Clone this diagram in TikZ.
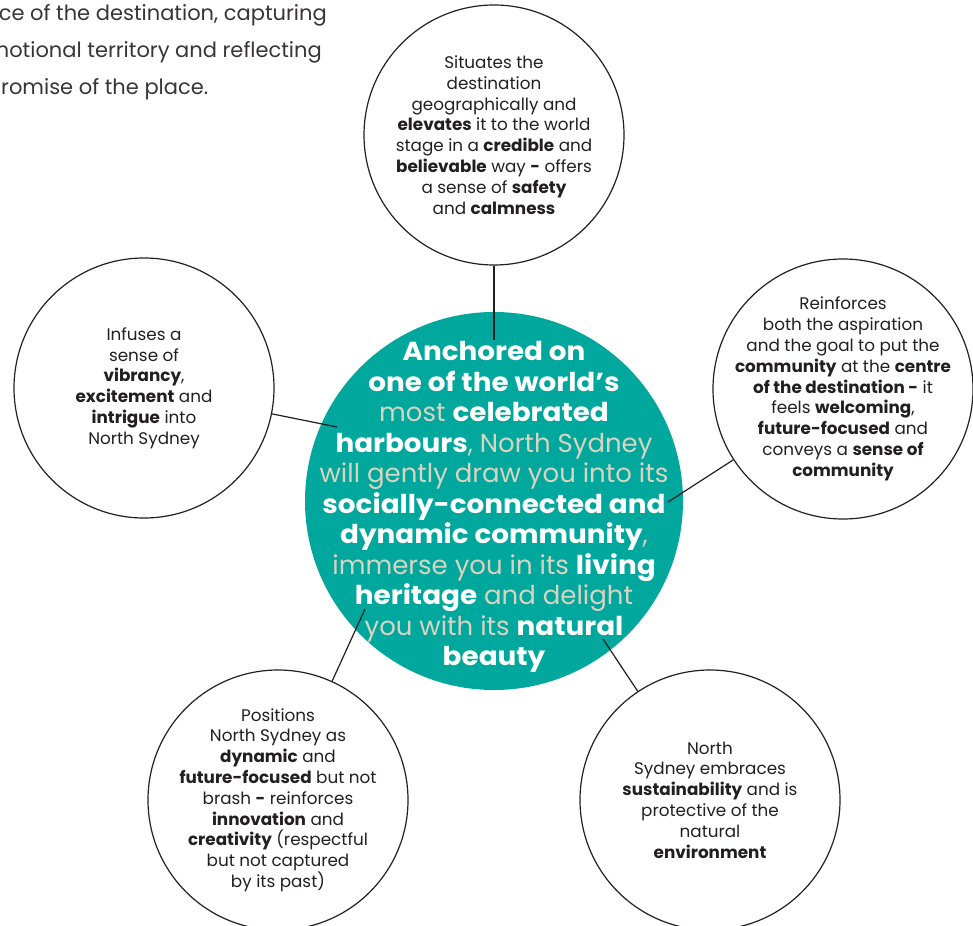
\documentclass[tikz,border=0pt]{standalone}
\usepackage{fontspec}
\setmainfont{Poppins}
\newfontfamily\corefont{Poppins}[BoldFeatures={FakeStretch=1.07}]
\definecolor{harbour}{HTML}{00A79D}
\definecolor{sand}{HTML}{D9D3C1}
\definecolor{ink}{HTML}{231F20}
\newcommand{\hb}[1]{{\bfseries\color{white}#1}}

\begin{document}
\begin{tikzpicture}
	[x=1pt, y=-1pt,
	 idea/.style={circle, draw=ink, line width=1.2pt, minimum size=260pt, inner sep=0pt},
	 ideatext/.style={align=center, text=ink, font=\fontsize{16.8}{20.8}\selectfont},
	 core/.style={circle, fill=harbour, minimum size=378pt, inner sep=0pt},
	 coretext/.style={align=center, text=sand, font=\corefont\fontsize{26}{30.5}\selectfont},
	 intro/.style={anchor=base east, inner sep=0pt, text=ink!90, font=\fontsize{21}{37}\selectfont},
	 link/.style={draw=ink, line width=1.2pt}]
	\path[use as bounding box, clip] (0,0) rectangle (973,925);

	% cut-off paragraph at the top left
	\node[intro] (intro1) at (327,21) {ce of the destination, capturing};
	\node[intro] (intro2) at (322,58) {motional territory and reflecting};
	\node[intro, anchor=base west] (intro3) at (1,95) {romise of the place.};

	% the central statement
	\node[core] (core) at (494,501) {};
	\node[coretext, yshift=-6pt] (core-t) at (core.center) {\hb{Anchored on}\\
		\hb{one of the world’s}\\
		most \hb{celebrated}\\
		\hb{harbours}, North Sydney\\
		will gently draw you into its\\
		\hb{socially-connected and}\\
		\hb{dynamic community},\\
		immerse you in its \hb{living}\\
		\hb{heritage} and delight\\
		you with its \hb{natural}\\
		\hb{beauty}};

	% the five ideas around it
	\node[idea] (situate) at (494,135) {};
	\node[ideatext] (situate-t) at (situate.center) {Situates the\\
		destination\\
		geographically and\\
		\textbf{elevates} it to the world\\
		stage in a \textbf{credible} and\\
		\textbf{believable} way \textbf{-} offers\\
		a sense of \textbf{safety}\\
		and \textbf{calmness}};

	\node[idea] (reinforce) at (843,389) {};
	\node[ideatext] (reinforce-t) at (reinforce.center) {Reinforces\\
		both the aspiration\\
		and the goal to put the\\
		\textbf{community} at the \textbf{centre}\\
		\textbf{of the destination -} it\\
		feels \textbf{welcoming},\\
		\textbf{future-focused} and\\
		conveys a \textbf{sense of}\\
		\textbf{community}};

	\node[idea] (infuse) at (144,388) {};
	\node[ideatext] (infuse-t) at (infuse.center) {Infuses a\\
		sense of\\
		\textbf{vibrancy},\\
		\textbf{excitement} and\\
		\textbf{intrigue} into\\
		North Sydney};

	\node[idea] (position) at (278,800) {};
	\node[ideatext] (position-t) at (position.center) {Positions\\
		North Sydney as\\
		\textbf{dynamic} and\\
		\textbf{future-focused} but not\\
		brash \textbf{-} reinforces\\
		\textbf{innovation} and\\
		\textbf{creativity} (respectful\\
		but not captured\\
		by its past)};

	\node[idea] (embrace) at (710,800) {};
	\node[ideatext] (embrace-t) at (embrace.center) {North\\
		Sydney embraces\\
		\textbf{sustainability} and is\\
		protective of the\\
		natural\\
		\textbf{environment}};

	% connectors, ending inside the central circle
	\coordinate (situate-in) at (494,340);
	\coordinate (reinforce-in) at (668,502);
	\coordinate (infuse-in) at (337,427);
	\coordinate (position-in) at (365,609);
	\coordinate (embrace-in) at (603,639);
	\draw[link] (situate) -- (situate-in);
	\draw[link] (reinforce) -- (reinforce-in);
	\draw[link] (infuse) -- (infuse-in);
	\draw[link] (position) -- (position-in);
	\draw[link] (embrace) -- (embrace-in);
\end{tikzpicture}
\end{document}
